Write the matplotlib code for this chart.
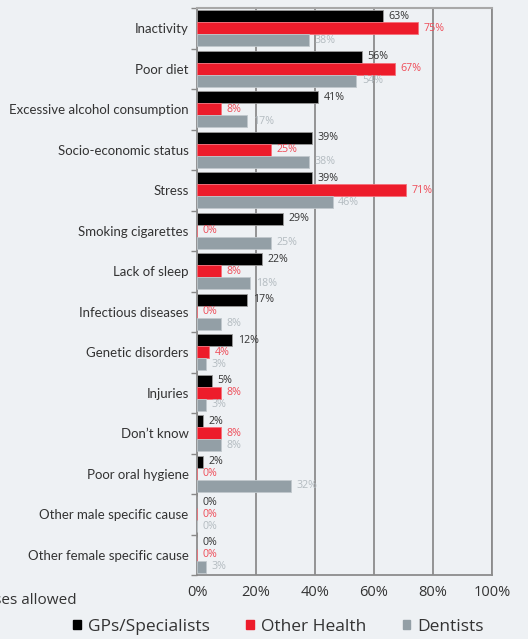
import matplotlib
matplotlib.use("Agg")
import matplotlib.pyplot as plt
import numpy as np
from matplotlib.ticker import FixedLocator

categories = ["Inactivity", "Poor diet", "Excessive alcohol consumption",
              "Socio-economic status", "Stress", "Smoking cigarettes",
              "Lack of sleep", "Infectious diseases", "Genetic disorders",
              "Injuries", "Don\u2019t know", "Poor oral hygiene",
              "Other male specific cause", "Other female specific cause"]
gps = [63, 56, 41, 39, 39, 29, 22, 17, 12, 5, 2, 2, 0, 0]
other_health = [75, 67, 8, 25, 71, 0, 8, 0, 4, 8, 8, 0, 0, 0]
dentists = [38, 54, 17, 38, 46, 25, 18, 8, 3, 3, 8, 32, 0, 3]
series_names = ["GPs/Specialists", "Other Health", "Dentists"]
xticks = [0, 20, 40, 60, 80, 100]

bg = "#eef1f4"
bar_colors = ["#000000", "#ed1c2b", "#939fa6"]
edge_colors = ["#9a9a9a", "#f5707a", "#c0c8cc"]
label_colors = ["#333333", "#ef4b57", "#b3bbc0"]

cat_font = ["Lato", "DejaVu Sans"]
num_font = ["Open Sans", "DejaVu Sans"]

fig = plt.figure(figsize=(5.28, 6.39), dpi=100, facecolor=bg)
ax = fig.add_axes([197/528, 1-575/639, 295/528, 567/639], facecolor=bg)

n = len(categories)
y = np.arange(n)
h = 0.296
for i, vals in enumerate([gps, other_health, dentists]):
    pos = y + (i - 1) * h
    ax.barh(pos, vals, height=h, color=bar_colors[i], edgecolor=edge_colors[i],
            linewidth=0.6, zorder=3)
    for p, v in zip(pos, vals):
        ax.annotate(f"{v}%", xy=(v, p), xytext=(4, 0), textcoords="offset points",
                    ha="left", va="center", fontsize=7.7, color=label_colors[i],
                    family=num_font, zorder=4)

ax.set_xlim(0, 100)
ax.set_ylim(n - 0.5, -0.5)
ax.set_xticks(xticks)
ax.set_xticklabels([f"{t}%" for t in xticks], fontsize=10.5, color="#333333",
                   family=num_font)
ax.tick_params(axis="x", length=0, pad=7)

ax.yaxis.set_major_locator(FixedLocator(np.arange(n + 1) - 0.5))
ax.yaxis.set_major_formatter(plt.NullFormatter())
ax.yaxis.set_minor_locator(FixedLocator(y))
ax.set_yticklabels(categories, minor=True, fontsize=9.5, color="#333333",
                   family=cat_font)
ax.tick_params(axis="y", which="major", length=4, width=1, color="#888888")
ax.tick_params(axis="y", which="minor", length=0, pad=6)

ax.grid(axis="x", color="#8c8c8c", linewidth=1.3, zorder=0)
for s in ["left", "bottom"]:
    ax.spines[s].set_color("#8c8c8c")
    ax.spines[s].set_linewidth(1.3)
ax.spines["top"].set_color("#a8a8a8")
ax.spines["top"].set_linewidth(1.5)
ax.spines["right"].set_color("#8c8c8c")
ax.spines["right"].set_linewidth(1.3)

fig.text(77/528, 1-601/639, "Multiple responses allowed", ha="right", va="center",
         fontsize=11, color="#333333", family=num_font)

handles = [plt.Rectangle((0, 0), 1, 1, color=c) for c in bar_colors]
fig.legend(handles, series_names, loc="center", bbox_to_anchor=(0.5275, 1-627/639),
           ncol=3, frameon=False, handlelength=0.45, handleheight=0.45,
           handletextpad=0.4, columnspacing=2.1, labelcolor="#333333",
           prop={"family": num_font, "size": 12.5})

fig.savefig("out.png", dpi=100, facecolor=bg)
